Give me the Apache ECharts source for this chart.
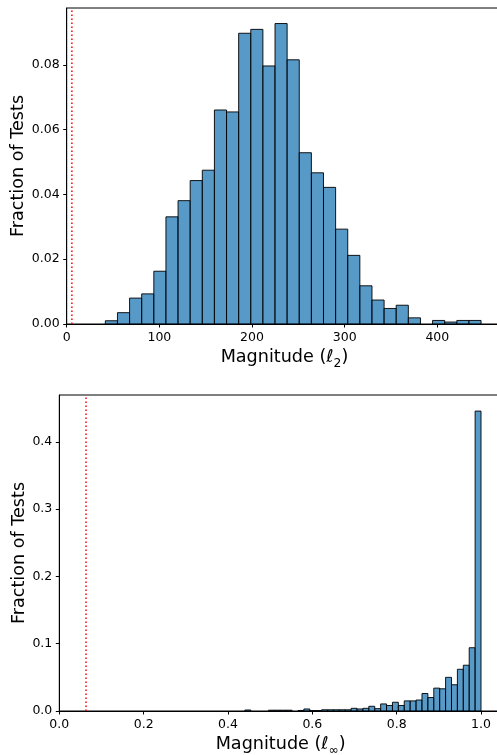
<!DOCTYPE html>
<html>
<head>
<meta charset="utf-8">
<script src="https://cdn.jsdelivr.net/npm/echarts@6/dist/echarts.min.js"></script>
<style>
html,body{margin:0;padding:0;background:#fff;}
#chart{width:497px;height:755px;}
</style>
</head>
<body>
<div id="chart"></div>
<script>
// ---- Top histogram: l2 magnitude ----
const l2BinStart = 41.7;
const l2BinWidth = 13.08;
const l2Values = [0.0010, 0.0035, 0.0080, 0.0093, 0.0163, 0.0331, 0.0381, 0.0443, 0.0475, 0.0661,
                  0.0655, 0.0898, 0.0910, 0.0797, 0.0928, 0.0816, 0.0529, 0.0467, 0.0422, 0.0293,
                  0.0212, 0.0118, 0.0074, 0.0048, 0.0058, 0.0019, 0.0, 0.0011, 0.0006, 0.0011, 0.0011];
const l2Threshold = 5.6;
const l2XTicks = [0, 100, 200, 300, 400];
const l2YTicks = [0, 0.02, 0.04, 0.06, 0.08];

// ---- Bottom histogram: l-infinity magnitude ----
const linfBinStart = 0.30;
const linfBinWidth = 0.014;
const linfValues = [0, 0, 0, 0, 0, 0, 0, 0, 0, 0,
                    0.0015, 0, 0, 0, 0.0012, 0.0012, 0.0012, 0.0012, 0, 0.0008,
                    0.0030, 0.0006, 0.0006, 0.0018, 0.0018, 0.0018, 0.0018, 0.0018, 0.0040, 0.0030,
                    0.0040, 0.0070, 0.0035, 0.0105, 0.0082, 0.0130, 0.0082, 0.0150, 0.0150, 0.0163,
                    0.0260, 0.0200, 0.0340, 0.0330, 0.0500, 0.0390, 0.0620, 0.0680, 0.0940, 0.4456];
const linfThreshold = 0.0633;
const linfXTicks = [0, 0.2, 0.4, 0.6, 0.8, 1.0];
const linfYTicks = [0, 0.1, 0.2, 0.3, 0.4];

function bins(start, width, values) {
  return values.map((v, i) => [start + i * width, start + (i + 1) * width, v]);
}

const FONT = 'DejaVu Sans';
const BAR_FILL = 'rgba(31,119,180,0.75)';
const BAR_EDGE = 'rgba(0,0,0,0.9)';

function renderBar(params, api) {
  const y = api.value(2);
  if (!(y > 0)) return null;
  const p0 = api.coord([api.value(0), y]);
  const p1 = api.coord([api.value(1), 0]);
  return {
    type: 'rect',
    shape: { x: p0[0], y: p0[1], width: p1[0] - p0[0], height: p1[1] - p0[1] },
    style: { fill: BAR_FILL, stroke: BAR_EDGE, lineWidth: 1 }
  };
}

const tickLabel = { fontFamily: FONT, fontSize: 12.5, color: '#000', margin: 7 };
const axisLineStyle = { show: true, lineStyle: { color: '#000', width: 1 } };
const tickStyle = { show: true, length: 3.5, inside: false, lineStyle: { color: '#000', width: 1 } };

function xName(sub) {
  return {
    name: '{a|Magnitude (}{l|ℓ}{s|' + sub + '}{a|)}',
    nameLocation: 'middle',
    nameMoveOverlap: false,
    nameTextStyle: {
      fontFamily: FONT, fontSize: 17.6, color: '#000',
      rich: {
        a: { fontFamily: FONT, fontSize: 17.6, color: '#000', verticalAlign: 'bottom', padding: [0, 0, 4, 0] },
        l: { fontFamily: FONT, fontSize: 17.6, color: '#000', verticalAlign: 'bottom', padding: [0, 0, 4, 0] },
        s: { fontFamily: FONT, fontSize: 12.3, color: '#000', verticalAlign: 'bottom', padding: [0, 0, 0, 0] }
      }
    }
  };
}

const yNameStyle = { fontFamily: FONT, fontSize: 17.6, color: '#000' };

const option = {
  animation: false,
  backgroundColor: '#fff',
  grid: [
    { left: 66.7, top: 8, width: 435.5, height: 316, show: true, borderColor: '#000', borderWidth: 1, backgroundColor: 'transparent', containLabel: false, outerBoundsMode: 'none' },
    { left: 59.3, top: 395, width: 442.8, height: 316, show: true, borderColor: '#000', borderWidth: 1, backgroundColor: 'transparent', containLabel: false, outerBoundsMode: 'none' }
  ],
  xAxis: [
    Object.assign({
      type: 'value', gridIndex: 0, min: 0, max: 470,
      nameGap: 24,
      axisLine: axisLineStyle,
      axisTick: Object.assign({ customValues: l2XTicks }, tickStyle),
      axisLabel: Object.assign({ customValues: l2XTicks, formatter: v => String(v) }, tickLabel),
      splitLine: { show: false }
    }, xName('2')),
    Object.assign({
      type: 'value', gridIndex: 1, min: 0, max: 1.05,
      nameGap: 24,
      axisLine: axisLineStyle,
      axisTick: Object.assign({ customValues: linfXTicks }, tickStyle),
      axisLabel: Object.assign({ customValues: linfXTicks, formatter: v => v.toFixed(1) }, tickLabel),
      splitLine: { show: false }
    }, xName('∞'))
  ],
  yAxis: [
    {
      type: 'value', gridIndex: 0, min: 0, max: 0.0976,
      name: 'Fraction of Tests', nameLocation: 'middle', nameGap: 39, nameMoveOverlap: false, nameTextStyle: yNameStyle,
      axisLine: axisLineStyle,
      axisTick: Object.assign({ customValues: l2YTicks }, tickStyle),
      axisLabel: Object.assign({ customValues: l2YTicks, formatter: v => v.toFixed(2) }, tickLabel),
      splitLine: { show: false }
    },
    {
      type: 'value', gridIndex: 1, min: 0, max: 0.4695,
      name: 'Fraction of Tests', nameLocation: 'middle', nameGap: 31, nameMoveOverlap: false, nameTextStyle: yNameStyle,
      axisLine: axisLineStyle,
      axisTick: Object.assign({ customValues: linfYTicks }, tickStyle),
      axisLabel: Object.assign({ customValues: linfYTicks, formatter: v => v.toFixed(1) }, tickLabel),
      splitLine: { show: false }
    }
  ],
  series: [
    {
      type: 'custom', xAxisIndex: 0, yAxisIndex: 0, clip: true,
      data: bins(l2BinStart, l2BinWidth, l2Values),
      encode: { x: [0, 1], y: 2 },
      renderItem: renderBar
    },
    {
      type: 'line', xAxisIndex: 0, yAxisIndex: 0, showSymbol: false, symbol: 'none',
      data: [[l2Threshold, 0], [l2Threshold, 0.0976]],
      lineStyle: { color: '#ff0000', width: 1.5, type: [1.5, 2.5] },
      silent: true
    },
    {
      type: 'custom', xAxisIndex: 1, yAxisIndex: 1, clip: true,
      data: bins(linfBinStart, linfBinWidth, linfValues),
      encode: { x: [0, 1], y: 2 },
      renderItem: renderBar
    },
    {
      type: 'line', xAxisIndex: 1, yAxisIndex: 1, showSymbol: false, symbol: 'none',
      data: [[linfThreshold, 0], [linfThreshold, 0.4695]],
      lineStyle: { color: '#ff0000', width: 1.5, type: [1.5, 2.5] },
      silent: true
    }
  ]
};

const chart = echarts.init(document.getElementById('chart'), null, { renderer: 'canvas' });
chart.setOption(option);
</script>
</body>
</html>
